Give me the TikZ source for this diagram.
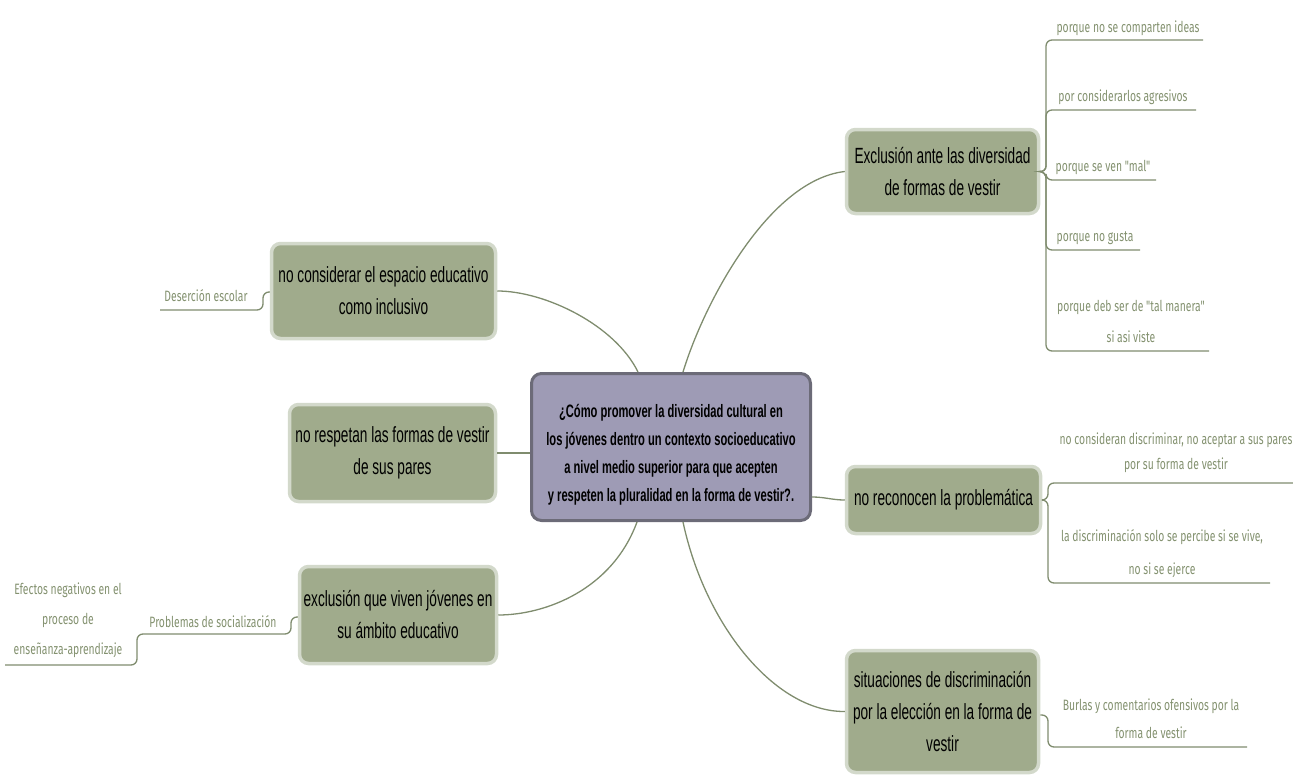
\documentclass[tikz,border=0pt]{standalone}
\usepackage{fontspec}
\setmainfont{Liberation Sans}[FakeStretch=0.62]
\newfontfamily\boxfont{Liberation Sans}[FakeStretch=0.62]
\newfontfamily\leaffont{Fira Sans}[FakeStretch=0.69, Ligatures=TeXOff]
\usetikzlibrary{calc}
\definecolor{boxfill}{HTML}{A0AB8C}
\definecolor{boxedge}{HTML}{D3D9CB}
\definecolor{cfill}{HTML}{9E9BB5}
\definecolor{cborder}{HTML}{6C6B78}
\definecolor{linec}{HTML}{7F8C6E}
\definecolor{leafc}{HTML}{83916F}
\begin{document}
\begin{tikzpicture}[x=1pt,y=-1pt,
  box/.style={draw=boxedge, line width=3.5pt, fill=boxfill, rounded corners=9pt, align=center, inner sep=2pt, font=\boxfont\fontsize{22}{32}\selectfont, text=black},
  centre/.style={draw=cborder, line width=3pt, fill=cfill, rounded corners=10pt, align=center, inner sep=2pt, font=\boxfont\bfseries\fontsize{18}{28}\selectfont},
  conn/.style={draw=linec, line width=1.3pt},
  leafline/.style={draw=linec, line width=1.3pt, rounded corners=6pt},
  leaf/.style={text=leafc, font=\leaffont\fontsize{15}{28}\selectfont, align=center, anchor=south, inner sep=2pt},
]
\useasboundingbox (0,0) rectangle (1293,776);

% central node
\node[centre, minimum width=279pt, minimum height=147pt] (c) at (671,447)
  {\rule{0pt}{29pt}¿Cómo promover la diversidad cultural en\\los jóvenes dentro un contexto socioeducativo\\a nivel medio superior para que acepten\\y respeten la pluralidad en la forma de vestir?.};

% main topic boxes
\node[box, minimum width=192pt, minimum height=84pt] (b1) at (942.5,171.5) {Exclusión ante las diversidad\\de formas de vestir};
\node[box, minimum width=224pt, minimum height=95pt] (b2) at (383.5,291) {no considerar el espacio educativo\\como inclusivo};
\node[box, minimum width=206pt, minimum height=97pt] (b3) at (392.5,453) {no respetan las formas de vestir\\de sus pares};
\node[box, minimum width=197pt, minimum height=97pt] (b4) at (398,615) {exclusión que viven jóvenes en\\su ámbito educativo};
\node[box, minimum width=194pt, minimum height=67pt] (b5) at (943.5,500) {no reconocen la problemática};
\node[box, minimum width=192pt, minimum height=122pt] (b6) at (942.5,711.5) {situaciones de discriminación\\por la elección en la forma de\\vestir};

% connectors from centre
\coordinate (ctl) at ($(c.north)+(-33,0)$);
\coordinate (ctr) at ($(c.north)+(12,0)$);
\coordinate (cbl) at ($(c.south)+(-34,0)$);
\coordinate (cbr) at ($(c.south)+(12,0)$);
\draw[conn] (ctr) .. controls (705,300) and (770,180) .. (b1.west);
\draw[conn] (ctl) .. controls (615,325) and (545,291) .. (b2.east);
\draw[conn] (c.west |- b3.east) -- (b3.east);
\draw[conn] ($(c.east)+(0,50)$) .. controls (825,497) and (832,500) .. (b5.west);
\draw[conn] (cbl) .. controls (612,590) and (545,615) .. (b4.east);
\draw[conn] (cbr) .. controls (705,625) and (775,712) .. (b6.west);

% leaves of b1
\coordinate (u1) at (1203,40);
\coordinate (u2) at (1196,110);
\coordinate (u3) at (1156,180);
\coordinate (u4) at (1140,250);
\coordinate (u5) at (1209,351);
\coordinate (j1) at (1046,172);
\foreach \u in {u1,u2,u3,u4,u5}{
  \draw[leafline] (b1.east) -- (j1) |- (\u);
}
\node[leaf] (l1) at (1128,38) {porque no se comparten ideas};
\node[leaf] (l2) at (1123,107) {por considerarlos agresivos};
\node[leaf] (l3) at (1103,177) {porque se ven "mal"};
\node[leaf] (l4) at (1095,247) {porque no gusta};
\node[leaf, font=\leaffont\fontsize{15}{31}\selectfont] (l5) at (1131,345) {porque deb ser de "tal manera"\\si asi viste};

% leaves of b5
\coordinate (u6) at (1293,483);
\coordinate (u7) at (1270,583);
\coordinate (j5) at (1048,500);
\draw[leafline] (b5.east) -- (j5) |- (u6);
\draw[leafline] (b5.east) -- (j5) |- (u7);
\node[leaf, font=\leaffont\fontsize{15}{25}\selectfont] (l6) at (1176,475) {no consideran discriminar, no aceptar a sus pares\\por su forma de vestir};
\node[leaf, font=\leaffont\fontsize{15}{33}\selectfont] (l7) at (1162,580) {la discriminación solo se percibe si se vive,\\no si se ejerce};

% leaf of b6
\coordinate (u8) at (1247,747);
\coordinate (j6) at (1048,715);
\draw[leafline] (b6.east |- j6) -- (j6) |- (u8);
\node[leaf] (l8) at (1151,741) {Burlas y comentarios ofensivos por la\\forma de vestir};

% leaf of b2
\coordinate (u9) at (160,310);
\coordinate (j2) at (263,292);
\draw[leafline] (b2.west |- j2) -- (j2) |- (u9);
\node[leaf] (l9) at (206,304) {Deserción escolar};

% leaves of b4
\coordinate (j4) at (291,617);
\coordinate (u10) at (137,634);
\coordinate (u11) at (5,665);
\draw[leafline] (b4.west |- j4) -- (j4) |- (u10) |- (u11);
\node[leaf] (l10) at (213,630) {Problemas de socialización};
\node[leaf, font=\leaffont\fontsize{15}{30}\selectfont] (l11) at (68,660) {Efectos negativos en el\\proceso de\\enseñanza-aprendizaje};
\end{tikzpicture}
\end{document}
